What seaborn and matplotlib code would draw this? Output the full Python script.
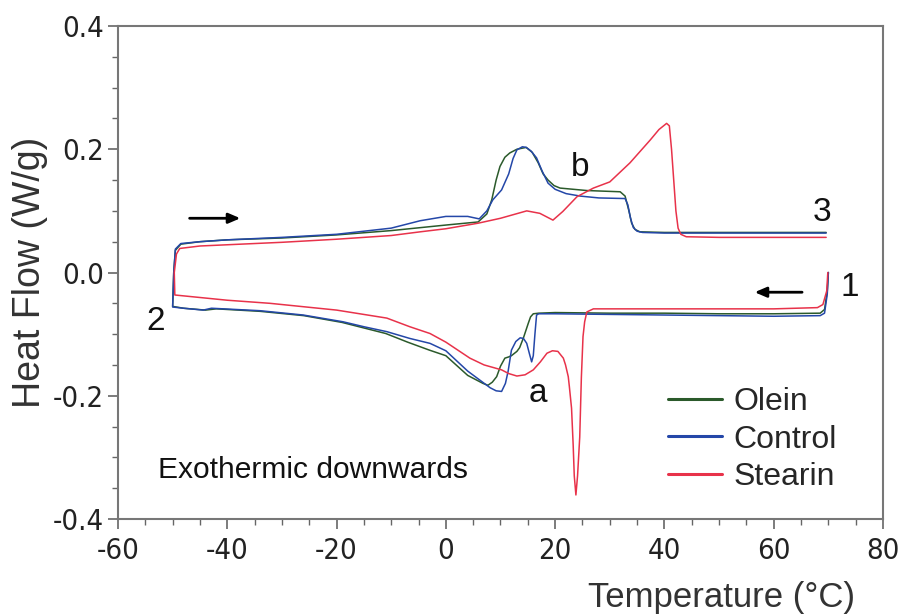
import numpy as np
import pandas as pd
import matplotlib
matplotlib.use("Agg")
import matplotlib.pyplot as plt
import seaborn as sns
from matplotlib.ticker import MultipleLocator

# --- DATA ---
# cooling scans run from 70 C down to -50 C, heating scans from -50 C back to 70 C
olein_cool_t = [70.0, 69.8, 69.3, 68.5, 60, 50, 40, 30, 20, 17, 16, 15.5, 15.1, 14.2, 13.5, 13, 12,
                11.5, 10.8, 10.0, 9.3, 8.5, 7.7, 6.8, 4, 0, -3, -7, -11, -15, -19, -26, -34, -42,
                -44, -48, -50]
olein_cool_hf = [0.0, -0.03, -0.060, -0.066, -0.067, -0.067, -0.066, -0.066, -0.065, -0.066, -0.067,
                 -0.072, -0.082, -0.106, -0.122, -0.128, -0.135, -0.137, -0.139, -0.152, -0.169,
                 -0.178, -0.183, -0.180, -0.167, -0.135, -0.126, -0.113, -0.099, -0.090, -0.081,
                 -0.070, -0.063, -0.059, -0.061, -0.058, -0.055]
olein_heat_t = [-49.8, -49.5, -48.5, -45, -40, -30, -20, -10, 0, 5.9, 7.5, 8.4, 9.2, 9.9, 10.8, 11.7,
                13, 14.7, 15.8, 16.9, 17.8, 18.7, 19.8, 20.9, 25.8, 31.9, 32.8, 33.5, 34.0, 34.6,
                35.5, 40, 50, 60, 69.6]
olein_heat_hf = [0.0, 0.036, 0.046, 0.050, 0.053, 0.056, 0.061, 0.068, 0.077, 0.082, 0.095, 0.118,
                 0.150, 0.172, 0.187, 0.194, 0.200, 0.203, 0.195, 0.178, 0.160, 0.150, 0.141, 0.137,
                 0.133, 0.131, 0.124, 0.100, 0.080, 0.070, 0.066, 0.065, 0.065, 0.065, 0.065]

control_cool_t = [70.0, 69.8, 69.3, 68.5, 60, 50, 40, 30, 20, 17, 16.6, 16.3, 16.0, 15.7, 15.3, 14.8,
                  14.2, 13.6, 12.8, 12.0, 11.4, 10.9, 10.2, 9.2, 8.1, 4, 0, -2.9, -6.6, -10.8, -15,
                  -18.8, -26.1, -34, -42.9, -44.4, -48, -50]
control_cool_hf = [0.0, -0.035, -0.066, -0.070, -0.071, -0.070, -0.069, -0.068, -0.067, -0.067,
                   -0.069, -0.100, -0.135, -0.145, -0.132, -0.115, -0.107, -0.106, -0.112, -0.126,
                   -0.160, -0.180, -0.193, -0.192, -0.187, -0.160, -0.127, -0.115, -0.107, -0.096,
                   -0.088, -0.080, -0.069, -0.062, -0.058, -0.061, -0.058, -0.056]
control_heat_t = [-49.8, -49.5, -48.5, -45, -40, -30, -20, -10, -4.7, 0, 4, 6.1, 7.5, 8.6, 10.2, 11.5,
                  12.3, 13, 14, 14.7, 15.6, 16.6, 17.6, 18.7, 20, 22, 24.6, 28, 32.8, 33.3, 33.8,
                  34.3, 35, 36, 40, 50, 60, 69.6]
control_heat_hf = [0.0, 0.038, 0.047, 0.050, 0.053, 0.057, 0.062, 0.072, 0.084, 0.091, 0.091, 0.087,
                   0.100, 0.118, 0.134, 0.160, 0.185, 0.199, 0.204, 0.203, 0.197, 0.186, 0.165,
                   0.145, 0.135, 0.128, 0.124, 0.121, 0.120, 0.110, 0.088, 0.073, 0.067, 0.065,
                   0.064, 0.064, 0.064, 0.064]

stearin_cool_t = [69.9, 69.7, 69.0, 68, 60, 50, 40, 30, 27, 25.8, 25.4, 25.1, 24.8, 24.5, 24.1, 23.8,
                  23.5, 23.3, 23.0, 22.6, 22.4, 21.9, 21.5, 20.5, 19.5, 18.5, 17.3, 16, 14.5, 13,
                  11.5, 10.2, 7, 4.4, 0, -2.9, -6.6, -10.8, -20, -32.2, -40, -49.6]
stearin_cool_hf = [0.0, -0.03, -0.052, -0.057, -0.059, -0.059, -0.059, -0.059, -0.059, -0.064,
                   -0.080, -0.104, -0.170, -0.267, -0.330, -0.361, -0.330, -0.280, -0.220, -0.185,
                   -0.169, -0.150, -0.139, -0.128, -0.127, -0.131, -0.145, -0.158, -0.166, -0.168,
                   -0.164, -0.158, -0.150, -0.139, -0.113, -0.099, -0.088, -0.074, -0.061, -0.050,
                   -0.045, -0.0365]
stearin_heat_t = [-49.7, -49.3, -48.7, -45, -40, -30, -20, -10, -4.7, 0, 5.9, 10, 14.8, 17.2, 19.6,
                  21.4, 24, 27, 30, 33.7, 37.4, 39, 40.4, 40.9, 41.3, 41.7, 42.1, 42.5, 43, 44, 50,
                  60, 69.6]
stearin_heat_hf = [0.0, 0.030, 0.039, 0.043, 0.045, 0.049, 0.054, 0.060, 0.066, 0.071, 0.080, 0.088,
                   0.100, 0.096, 0.085, 0.099, 0.123, 0.137, 0.147, 0.178, 0.215, 0.232, 0.242,
                   0.238, 0.200, 0.150, 0.100, 0.072, 0.062, 0.058, 0.057, 0.057, 0.057]

samples = ["Olein", "Control", "Stearin"]
colors = {"Olein": "#2b5a2b", "Control": "#2447a8", "Stearin": "#e8324a"}

# build one long table, keeping the scan order (cooling then heating)
frames = []
for name, ct, ch, ht, hh in [
    ("Olein", olein_cool_t, olein_cool_hf, olein_heat_t, olein_heat_hf),
    ("Control", control_cool_t, control_cool_hf, control_heat_t, control_heat_hf),
    ("Stearin", stearin_cool_t, stearin_cool_hf, stearin_heat_t, stearin_heat_hf),
]:
    frames.append(pd.DataFrame({"temp": ct + ht, "hf": ch + hh, "sample": name}))
df = pd.concat(frames, ignore_index=True)

# --- STYLE ---
sns.set_style("ticks")
plt.rcParams["font.family"] = ["Liberation Sans", "DejaVu Sans"]
plt.rcParams["axes.unicode_minus"] = False

fig = plt.figure(figsize=(9, 6.16), dpi=100)
ax = fig.add_axes([118 / 900, 1 - 519 / 616, 765 / 900, 493 / 616])

sns.lineplot(data=df, x="temp", y="hf", hue="sample", hue_order=samples, palette=colors,
             sort=False, estimator=None, linewidth=1.1, ax=ax)

ax.set_xlim(-60, 80)
ax.set_ylim(-0.4, 0.4)
ax.xaxis.set_major_locator(MultipleLocator(20))
ax.xaxis.set_minor_locator(MultipleLocator(5))
ax.yaxis.set_major_locator(MultipleLocator(0.2))
ax.yaxis.set_minor_locator(MultipleLocator(0.05))
ax.yaxis.set_major_formatter(plt.FuncFormatter(lambda v, p: f"{v:.1f}"))

ax.tick_params(axis="both", which="major", length=7, width=1.2, color="#666", labelsize=21,
               labelcolor="#222", pad=6)
ax.tick_params(axis="y", which="major", pad=3)
ax.tick_params(axis="both", which="minor", length=4, width=1.0, color="#666")
# the original tick labels use a condensed face
for lab in ax.get_xticklabels() + ax.get_yticklabels():
    lab.set_family("DejaVu Sans")
    lab.set_stretch("condensed")

for side in ["left", "right", "top", "bottom"]:
    ax.spines[side].set_color("#777")
    ax.spines[side].set_linewidth(1.5)

ax.set_xlabel("Temperature (°C)", fontsize=25, color="#333")
ax.set_ylabel("Heat Flow (W/g)", fontsize=27, color="#333")
ax.xaxis.set_label_coords(0.963, -0.160)
ax.xaxis.label.set_ha("right")
ax.xaxis.label.set_va("center")
ax.yaxis.set_label_coords(-0.115, 0.5)
ax.yaxis.label.set_va("center")

# annotations
for txt, x, y in [("1", 74.0, -0.025), ("2", -53.2, -0.080), ("3", 68.8, 0.097),
                  ("a", 16.9, -0.196), ("b", 24.5, 0.170)]:
    ax.text(x, y, txt, fontsize=24, ha="center", va="center", color="#111")
ax.text(-52.7, -0.321, "Exothermic downwards", fontsize=21.6, ha="left", va="center", color="#111")

arrow_kw = dict(arrowstyle="-|>,head_length=0.7,head_width=0.3", color="black", lw=2)
ax.annotate("", xy=(-37.1, 0.088), xytext=(-47.4, 0.088), arrowprops=arrow_kw)
ax.annotate("", xy=(56.0, -0.032), xytext=(65.7, -0.032), arrowprops=arrow_kw)

# legend
handles, labels = ax.get_legend_handles_labels()
ax.legend(handles, labels, loc="upper left", bbox_to_anchor=(668 / 900, 1 - 387 / 616),
          bbox_transform=fig.transFigure, frameon=False, fontsize=23, handlelength=1.7,
          handletextpad=0.35, labelspacing=0.24, borderpad=0, borderaxespad=0)
for line in ax.get_legend().get_lines():
    line.set_linewidth(2.2)

fig.savefig("out.png", dpi=100)
